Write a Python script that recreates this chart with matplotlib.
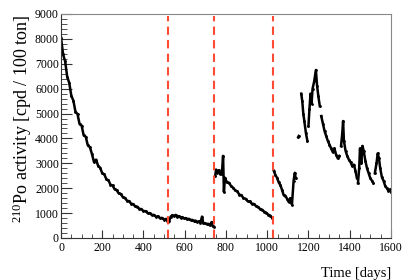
import numpy as np
import matplotlib.pyplot as plt
from matplotlib.ticker import MultipleLocator

# 210Po activity, in separate run periods
days_a = [0, 10, 20, 30, 40, 50, 60, 70, 80, 90, 100, 110, 120, 130, 140, 150, 160, 170,
          180, 190, 200, 210, 220, 230, 240, 250, 260, 270, 280, 290, 300, 310, 320, 330,
          340, 350, 360, 370, 380, 390, 400, 410, 420, 430, 440, 450, 460, 470, 480, 490,
          500, 510, 518]
act_a = [8050, 7380, 7100, 6480, 6230, 5720, 5520, 5080, 4980, 4580, 4520, 4120, 4070, 3720,
         3650, 3380, 3050, 3150, 2900, 2820, 2600, 2560, 2360, 2320, 2140, 2110, 1960, 1920,
         1790, 1770, 1640, 1610, 1500, 1480, 1380, 1360, 1270, 1260, 1170, 1160, 1080, 1080,
         1000, 1000, 930, 930, 860, 870, 800, 810, 740, 770, 640]

days_b = [525, 532, 540, 548, 556, 564, 572, 580, 588, 596, 604, 612, 620, 628, 636, 644,
          652, 660, 668, 676, 684, 690, 698, 706, 714, 722, 730, 736, 742]
act_b = [700, 860, 920, 880, 930, 860, 880, 820, 840, 790, 800, 750, 770, 720, 730, 690,
         700, 650, 670, 620, 860, 600, 590, 560, 570, 510, 640, 470, 450]

days_c = [748, 752, 758, 765, 772, 780, 786, 790, 795, 805, 815, 825, 835, 845, 855, 865,
          875, 885, 895, 905, 915, 925, 935, 945, 955, 965, 975, 985, 995, 1005, 1015, 1025]
act_c = [2500, 2750, 2620, 2720, 2580, 2560, 3300, 1850, 2420, 2230, 2220, 2080, 2020, 1910,
         1870, 1740, 1720, 1600, 1580, 1480, 1470, 1380, 1370, 1290, 1250, 1170, 1140, 1060,
         1020, 940, 900, 800]

days_d = [1032, 1040, 1048, 1056, 1064, 1072, 1080, 1088, 1096, 1104, 1112, 1120, 1128,
          1134, 1138]
act_d = [2700, 2520, 2420, 2230, 2120, 1930, 1720, 1700, 1580, 1450, 1600, 1340, 2300,
         2620, 2400]

# last period is patchy: several short stretches
days_e = [[1150, 1153],
          [1165, 1170, 1175, 1180, 1188, 1195],
          [1200, 1205, 1210, 1215, 1220, 1228, 1236, 1242, 1248, 1255],
          [1262, 1270, 1278, 1286, 1294, 1302, 1310, 1318, 1326, 1334, 1342, 1350],
          [1358, 1364, 1368, 1372, 1380, 1388, 1396, 1404, 1412, 1420, 1428, 1435],
          [1440, 1446, 1450, 1456, 1462, 1468, 1476, 1484, 1492, 1500, 1508, 1515],
          [1522, 1530, 1536, 1542, 1548, 1556, 1564, 1572, 1580, 1588, 1596, 1600]]
act_e = [[4050, 4100],
         [5800, 5500, 5000, 4700, 4200, 3900],
         [4500, 5200, 5800, 5400, 6000, 6300, 6750, 6100, 5700, 5300],
         [4900, 4600, 4300, 4100, 3900, 3750, 3600, 3450, 3600, 3350, 3200, 3300],
         [3700, 4200, 4700, 3900, 3500, 3300, 3150, 3050, 2900, 2950, 2700, 2400],
         [2200, 2800, 3600, 3000, 3700, 3500, 3100, 2800, 2600, 2400, 2300, 2200],
         [2600, 3000, 3400, 3200, 2800, 2450, 2300, 2100, 2000, 1900, 1950, 1850]]

# boundaries between run periods
cuts = [520, 742, 1028]

plt.rcParams['font.family'] = ['Liberation Serif', 'DejaVu Serif']
plt.rcParams['mathtext.fontset'] = 'custom'
plt.rcParams['mathtext.rm'] = 'Liberation Serif'
plt.rcParams['mathtext.default'] = 'regular'

fig = plt.figure(figsize=(4.15, 2.8), dpi=100)
ax = fig.add_axes([0.147, 0.15, 0.795, 0.80])

segs = [(days_a, act_a), (days_b, act_b), (days_c, act_c), (days_d, act_d)]
segs += list(zip(days_e, act_e))
for d, a in segs:
    ax.plot(d, a, color='black', lw=1.8, marker='.', ms=2)

for c in cuts:
    ax.axvline(c, ymax=0.99, color='#ff4b33', lw=1.5, dashes=(4, 2.5))

ax.set_xlim(0, 1600)
ax.set_ylim(0, 9000)
ax.xaxis.set_major_locator(MultipleLocator(200))
ax.xaxis.set_minor_locator(MultipleLocator(50))
ax.yaxis.set_major_locator(MultipleLocator(1000))
ax.yaxis.set_minor_locator(MultipleLocator(200))
ax.tick_params(which='both', direction='in', top=False, right=False, labelsize=8.5, color='#333333')
ax.tick_params(axis='y', which='major', length=8, pad=1.5)
ax.tick_params(axis='y', which='minor', length=4)
ax.tick_params(axis='x', which='major', length=6, pad=3)
ax.tick_params(axis='x', which='minor', length=3)

for s in ['top', 'right']:
    ax.spines[s].set_color('#888888')
for s in ['left', 'bottom']:
    ax.spines[s].set_color('#333333')

ax.set_xlabel('Time [days]', fontsize=10.5, ha='right')
ax.xaxis.set_label_coords(1.0, -0.13)
ax.set_ylabel('$^{210}$Po activity [cpd / 100 ton]', fontsize=13, ha='right', va='center')
ax.yaxis.set_label_coords(-0.118, 1.0)

fig.savefig('out.png', dpi=100)
